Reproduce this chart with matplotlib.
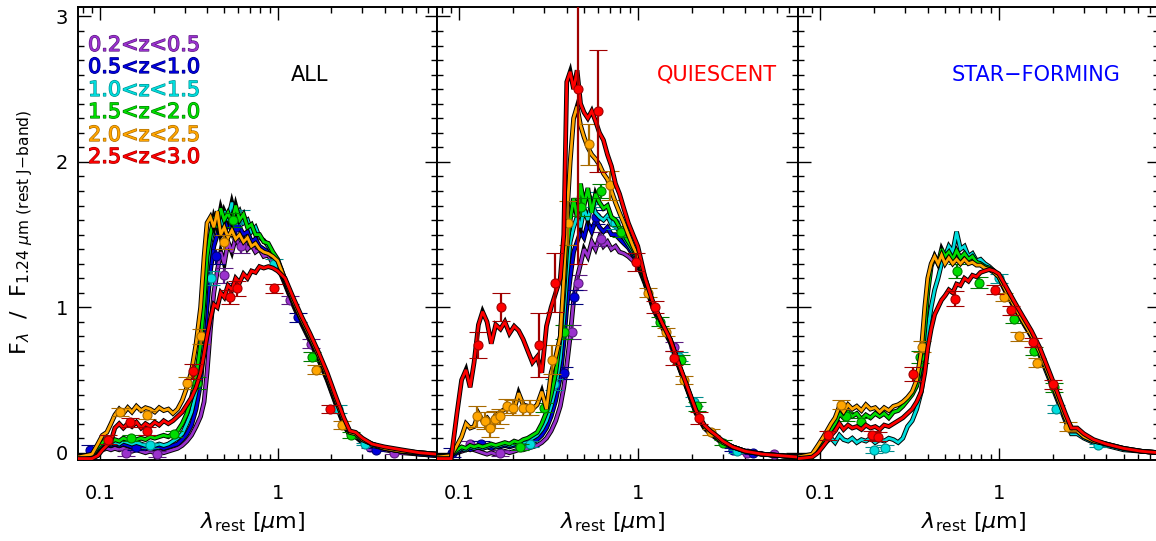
import matplotlib
matplotlib.use("Agg")
import matplotlib.pyplot as plt
import matplotlib.patheffects as pe
from matplotlib.ticker import FixedLocator, FixedFormatter, NullFormatter

# ---------------------------------------------------------------------------
# Composite rest-frame SEDs, normalised at 1.24 micron (rest J band)
# ---------------------------------------------------------------------------
wave = [0.075, 0.090, 0.097, 0.103, 0.109, 0.115, 0.121, 0.128, 0.135, 0.143,
        0.151, 0.160, 0.170, 0.180, 0.191, 0.203, 0.215, 0.228, 0.242, 0.257,
        0.273, 0.290, 0.308, 0.327, 0.347, 0.368, 0.385, 0.400, 0.418, 0.437,
        0.457, 0.478, 0.500, 0.525, 0.552, 0.580, 0.610, 0.642, 0.676, 0.712,
        0.750, 0.790, 0.835, 0.885, 0.940, 1.000, 1.100, 1.220, 1.360, 1.520,
        1.700, 1.900, 2.120, 2.360, 2.550, 2.750, 3.000, 3.400, 4.000, 5.000,
        6.300, 7.900]

zbins = ["0.2<z<0.5", "0.5<z<1.0", "1.0<z<1.5", "1.5<z<2.0", "2.0<z<2.5", "2.5<z<3.0"]
colors = ["#9A32CD", "#0000DD", "#00DDDD", "#00DD00", "#FFA500", "#FF0000"]
dark_colors = ["#5A1A80", "#00007A", "#008C8C", "#007A00", "#A86A00", "#A00000"]

# ALL galaxies
all_purple = [
    -0.03, -0.03, 0.00, 0.02, 0.03, 0.02, 0.03, 0.02, 0.03, 0.02,
    0.01, 0.02, 0.01, 0.00, 0.01, 0.00, 0.01, 0.00, 0.01, 0.02,
    0.03, 0.05, 0.08, 0.12, 0.18, 0.25, 0.35, 0.55, 0.85, 1.10,
    1.25, 1.38, 1.30, 1.45, 1.38, 1.48, 1.42, 1.47, 1.40, 1.43,
    1.38, 1.40, 1.35, 1.36, 1.30, 1.28, 1.16, 1.02, 0.89, 0.77,
    0.64, 0.50, 0.34, 0.19, 0.12, 0.11, 0.07, 0.04, 0.02, 0.00,
    -0.01, -0.02]
all_blue = [
    -0.03, -0.02, 0.02, 0.05, 0.06, 0.05, 0.06, 0.05, 0.06, 0.05,
    0.04, 0.05, 0.04, 0.03, 0.04, 0.03, 0.04, 0.03, 0.04, 0.05,
    0.06, 0.09, 0.13, 0.19, 0.30, 0.48, 0.75, 1.00, 1.25, 1.42,
    1.50, 1.58, 1.50, 1.60, 1.52, 1.62, 1.55, 1.50, 1.52, 1.45,
    1.47, 1.42, 1.40, 1.38, 1.34, 1.30, 1.17, 1.03, 0.90, 0.78,
    0.65, 0.51, 0.35, 0.20, 0.12, 0.11, 0.08, 0.05, 0.03, 0.01,
    -0.01, -0.02]
all_cyan = [
    -0.03, -0.02, 0.03, 0.06, 0.08, 0.06, 0.07, 0.06, 0.08, 0.07,
    0.06, 0.07, 0.06, 0.05, 0.06, 0.05, 0.06, 0.05, 0.06, 0.08,
    0.10, 0.13, 0.20, 0.28, 0.42, 0.65, 0.95, 1.25, 1.45, 1.55,
    1.62, 1.55, 1.66, 1.60, 1.72, 1.62, 1.66, 1.58, 1.60, 1.52,
    1.55, 1.48, 1.46, 1.42, 1.37, 1.32, 1.18, 1.04, 0.91, 0.79,
    0.66, 0.52, 0.36, 0.21, 0.13, 0.12, 0.08, 0.05, 0.03, 0.01,
    0.00, -0.01]
all_green = [
    -0.03, -0.02, 0.04, 0.07, 0.10, 0.07, 0.09, 0.08, 0.10, 0.09,
    0.10, 0.09, 0.10, 0.09, 0.11, 0.10, 0.11, 0.12, 0.11, 0.13,
    0.15, 0.20, 0.27, 0.38, 0.52, 0.75, 1.05, 1.35, 1.50, 1.62,
    1.55, 1.68, 1.60, 1.65, 1.58, 1.70, 1.60, 1.64, 1.55, 1.57,
    1.50, 1.50, 1.45, 1.44, 1.38, 1.33, 1.19, 1.05, 0.92, 0.80,
    0.67, 0.53, 0.37, 0.22, 0.14, 0.13, 0.09, 0.06, 0.03, 0.01,
    0.00, -0.01]
all_orange = [
    -0.03, -0.01, 0.06, 0.12, 0.14, 0.20, 0.26, 0.30, 0.27, 0.31,
    0.28, 0.32, 0.29, 0.31, 0.30, 0.28, 0.31, 0.29, 0.30, 0.27,
    0.30, 0.36, 0.45, 0.56, 0.75, 1.00, 1.35, 1.58, 1.62, 1.55,
    1.66, 1.50, 1.55, 1.48, 1.53, 1.47, 1.50, 1.45, 1.48, 1.42,
    1.44, 1.40, 1.38, 1.37, 1.35, 1.32, 1.19, 1.05, 0.92, 0.80,
    0.67, 0.53, 0.37, 0.22, 0.14, 0.13, 0.09, 0.06, 0.03, 0.01,
    0.00, -0.01]
all_red = [
    -0.04, -0.04, -0.02, 0.02, 0.05, 0.08, 0.17, 0.20, 0.17, 0.20,
    0.18, 0.21, 0.17, 0.20, 0.18, 0.21, 0.19, 0.22, 0.20, 0.22,
    0.25, 0.28, 0.33, 0.38, 0.45, 0.55, 0.68, 0.80, 0.92, 1.02,
    1.00, 1.10, 1.07, 1.15, 1.12, 1.20, 1.17, 1.23, 1.20, 1.25,
    1.24, 1.28, 1.27, 1.28, 1.27, 1.25, 1.20, 1.07, 0.94, 0.82,
    0.69, 0.55, 0.39, 0.24, 0.15, 0.14, 0.10, 0.06, 0.04, 0.02,
    0.00, -0.01]

# Quiescent galaxies
q_purple = [
    -0.03, -0.02, 0.00, 0.01, 0.02, 0.03, 0.02, 0.01, 0.00, -0.01,
    0.00, -0.01, 0.00, 0.01, 0.00, 0.01, 0.02, 0.02, 0.03, 0.04,
    0.05, 0.07, 0.10, 0.15, 0.22, 0.32, 0.45, 0.60, 0.80, 1.05,
    1.20, 1.30, 1.40, 1.35, 1.45, 1.40, 1.48, 1.42, 1.45, 1.40,
    1.42, 1.38, 1.37, 1.35, 1.32, 1.29, 1.16, 0.99, 0.87, 0.76,
    0.59, 0.43, 0.27, 0.17, 0.13, 0.10, 0.06, 0.03, 0.00, -0.01,
    -0.02, -0.03]
q_blue = [
    -0.03, -0.02, 0.00, 0.02, 0.03, 0.02, 0.03, 0.04, 0.03, 0.04,
    0.03, 0.04, 0.04, 0.05, 0.04, 0.05, 0.05, 0.06, 0.06, 0.07,
    0.09, 0.12, 0.17, 0.25, 0.36, 0.52, 0.75, 1.00, 1.20, 1.38,
    1.45, 1.52, 1.48, 1.58, 1.52, 1.60, 1.55, 1.52, 1.55, 1.50,
    1.50, 1.47, 1.44, 1.41, 1.36, 1.31, 1.17, 1.00, 0.88, 0.77,
    0.60, 0.44, 0.28, 0.18, 0.14, 0.11, 0.07, 0.04, 0.01, -0.01,
    -0.02, -0.03]
q_cyan = [
    -0.03, -0.02, 0.01, 0.03, 0.02, 0.04, 0.03, 0.04, 0.03, 0.04,
    0.05, 0.04, 0.05, 0.06, 0.05, 0.06, 0.07, 0.07, 0.08, 0.10,
    0.12, 0.16, 0.22, 0.32, 0.45, 0.65, 0.92, 1.20, 1.45, 1.55,
    1.62, 1.55, 1.68, 1.60, 1.72, 1.65, 1.62, 1.60, 1.63, 1.57,
    1.56, 1.52, 1.48, 1.43, 1.38, 1.32, 1.18, 1.01, 0.88, 0.77,
    0.60, 0.44, 0.28, 0.18, 0.14, 0.11, 0.07, 0.04, 0.01, -0.01,
    -0.02, -0.03]
q_green = [
    -0.03, -0.02, 0.02, 0.04, 0.03, 0.05, 0.04, 0.05, 0.04, 0.05,
    0.06, 0.05, 0.06, 0.07, 0.06, 0.08, 0.07, 0.09, 0.10, 0.12,
    0.14, 0.20, 0.28, 0.40, 0.55, 0.80, 1.10, 1.40, 1.60, 1.75,
    1.62, 1.85, 1.70, 1.82, 1.65, 1.78, 1.72, 1.68, 1.70, 1.62,
    1.60, 1.55, 1.50, 1.45, 1.40, 1.33, 1.18, 1.01, 0.89, 0.78,
    0.60, 0.44, 0.28, 0.18, 0.14, 0.11, 0.07, 0.04, 0.01, -0.01,
    -0.02, -0.03]
q_orange = [
    -0.03, -0.02, 0.05, 0.11, 0.20, 0.17, 0.18, 0.27, 0.22, 0.24,
    0.20, 0.26, 0.28, 0.30, 0.32, 0.30, 0.41, 0.33, 0.32, 0.30,
    0.33, 0.42, 0.30, 0.55, 0.66, 0.80, 1.20, 1.60, 2.00, 2.30,
    2.38, 2.25, 2.17, 2.10, 2.05, 2.02, 1.98, 1.92, 1.88, 1.80,
    1.72, 1.65, 1.58, 1.50, 1.42, 1.35, 1.20, 1.02, 0.89, 0.78,
    0.60, 0.44, 0.28, 0.18, 0.14, 0.11, 0.07, 0.04, 0.01, -0.01,
    -0.02, -0.03]
q_red = [
    -0.04, -0.04, 0.27, 0.50, 0.57, 0.45, 0.62, 0.88, 0.97, 0.90,
    0.75, 0.88, 0.85, 0.90, 0.82, 0.87, 0.84, 0.78, 0.70, 0.62,
    0.66, 0.55, 0.87, 1.00, 1.10, 1.20, 1.50, 2.55, 2.62, 2.50,
    2.63, 2.40, 2.34, 2.30, 2.35, 2.28, 2.20, 2.15, 2.05, 1.97,
    1.85, 1.78, 1.68, 1.58, 1.50, 1.42, 1.20, 1.03, 0.90, 0.78,
    0.61, 0.45, 0.29, 0.19, 0.15, 0.12, 0.08, 0.04, 0.01, -0.01,
    -0.02, -0.03]

# Star-forming galaxies
sf_cyan = [
    -0.03, -0.02, 0.02, 0.05, 0.08, 0.10, 0.07, 0.12, 0.09, 0.08,
    0.10, 0.07, 0.09, 0.08, 0.10, 0.07, 0.09, 0.08, 0.10, 0.09,
    0.07, 0.10, 0.18, 0.22, 0.30, 0.42, 0.60, 0.85, 1.00, 1.12,
    1.20, 1.30, 1.35, 1.42, 1.38, 1.52, 1.40, 1.42, 1.35, 1.37,
    1.32, 1.33, 1.30, 1.28, 1.25, 1.20, 1.10, 1.00, 0.90, 0.80,
    0.67, 0.52, 0.37, 0.22, 0.13, 0.13, 0.10, 0.07, 0.05, 0.02,
    0.01, 0.00]
sf_green = [
    -0.03, -0.02, 0.03, 0.08, 0.12, 0.16, 0.20, 0.27, 0.24, 0.28,
    0.25, 0.27, 0.23, 0.26, 0.24, 0.27, 0.25, 0.27, 0.24, 0.28,
    0.29, 0.32, 0.36, 0.40, 0.46, 0.60, 0.85, 1.10, 1.28, 1.35,
    1.30, 1.40, 1.35, 1.38, 1.33, 1.39, 1.34, 1.37, 1.33, 1.35,
    1.31, 1.30, 1.28, 1.27, 1.25, 1.21, 1.11, 1.01, 0.91, 0.81,
    0.69, 0.54, 0.39, 0.24, 0.15, 0.15, 0.11, 0.08, 0.06, 0.03,
    0.01, 0.00]
sf_orange = [
    -0.03, -0.01, 0.05, 0.10, 0.15, 0.20, 0.24, 0.32, 0.28, 0.33,
    0.30, 0.32, 0.29, 0.33, 0.30, 0.31, 0.28, 0.31, 0.29, 0.32,
    0.33, 0.35, 0.38, 0.42, 0.50, 0.70, 1.00, 1.20, 1.30, 1.35,
    1.30, 1.36, 1.30, 1.34, 1.30, 1.33, 1.30, 1.33, 1.30, 1.31,
    1.29, 1.29, 1.27, 1.26, 1.24, 1.21, 1.11, 1.01, 0.91, 0.81,
    0.69, 0.54, 0.39, 0.24, 0.15, 0.15, 0.11, 0.08, 0.06, 0.03,
    0.01, 0.00]
sf_red = [
    -0.04, -0.03, 0.00, 0.04, 0.08, 0.12, 0.15, 0.20, 0.16, 0.19,
    0.17, 0.18, 0.16, 0.19, 0.17, 0.18, 0.16, 0.19, 0.18, 0.20,
    0.22, 0.24, 0.27, 0.30, 0.35, 0.42, 0.55, 0.72, 0.85, 0.95,
    1.00, 1.05, 1.08, 1.12, 1.10, 1.16, 1.15, 1.20, 1.18, 1.22,
    1.21, 1.24, 1.25, 1.26, 1.25, 1.23, 1.14, 1.04, 0.94, 0.84,
    0.72, 0.57, 0.42, 0.27, 0.17, 0.17, 0.13, 0.09, 0.06, 0.03,
    0.01, 0.00]

# Binned photometry: (wavelength [micron], F/F_J, error)
all_purple_pts = [(0.14, 0.00, 0.02), (0.21, -0.01, 0.02), (0.50, 1.22, 0.05), (0.62, 1.42, 0.05),
                  (1.18, 1.05, 0.03), (1.55, 0.75, 0.03), (3.3, 0.04, 0.01), (4.5, 0.00, 0.01)]
all_blue_pts = [(0.088, 0.02, 0.03), (0.16, 0.04, 0.02), (0.45, 1.35, 0.05), (0.58, 1.55, 0.05),
                (1.30, 0.93, 0.03), (3.6, 0.02, 0.01)]
all_cyan_pts = [(0.19, 0.05, 0.02), (0.42, 1.20, 0.05), (0.62, 1.62, 0.05), (0.95, 1.30, 0.03),
                (2.2, 0.30, 0.03), (3.1, 0.06, 0.01)]
all_green_pts = [(0.15, 0.10, 0.02), (0.26, 0.13, 0.02), (0.35, 0.48, 0.04), (0.56, 1.60, 0.05),
                 (1.57, 0.66, 0.03), (2.6, 0.12, 0.02)]
all_orange_pts = [(0.13, 0.28, 0.03), (0.183, 0.26, 0.03), (0.307, 0.48, 0.04), (0.37, 0.80, 0.05),
                  (0.50, 1.45, 0.05), (1.65, 0.57, 0.03), (2.3, 0.19, 0.03)]
all_red_pts = [(0.111, 0.09, 0.03), (0.147, 0.21, 0.03), (0.183, 0.15, 0.03), (0.333, 0.56, 0.05),
               (0.54, 1.07, 0.05), (0.59, 1.13, 0.05), (0.95, 1.13, 0.03), (1.97, 0.30, 0.03)]

q_purple_pts = [(0.115, 0.06, 0.02), (0.17, 0.00, 0.02), (0.43, 0.83, 0.05), (0.46, 1.17, 0.05),
                (0.62, 1.47, 0.05), (1.59, 0.73, 0.03), (4.1, 0.00, 0.01), (5.8, -0.01, 0.01)]
q_blue_pts = [(0.091, 0.00, 0.03), (0.133, 0.06, 0.02), (0.385, 0.55, 0.04), (0.44, 1.07, 0.05),
              (0.58, 1.62, 0.05), (3.4, 0.02, 0.01), (4.4, 0.00, 0.01)]
q_cyan_pts = [(0.25, 0.06, 0.02), (0.338, 0.47, 0.04), (0.575, 1.74, 0.05), (0.75, 1.58, 0.04),
              (1.70, 0.66, 0.03), (2.07, 0.35, 0.03), (3.6, 0.01, 0.01)]
q_green_pts = [(0.22, 0.04, 0.02), (0.30, 0.31, 0.03), (0.384, 0.83, 0.05), (0.48, 1.69, 0.06),
               (0.62, 1.80, 0.05), (0.81, 1.52, 0.04), (1.33, 0.90, 0.03), (1.75, 0.64, 0.03),
               (2.16, 0.32, 0.03), (3.0, 0.07, 0.02)]
q_orange_pts = [(0.126, 0.25, 0.07), (0.14, 0.22, 0.06), (0.149, 0.17, 0.06), (0.159, 0.23, 0.06),
                (0.17, 0.25, 0.05), (0.186, 0.32, 0.05), (0.20, 0.31, 0.05), (0.226, 0.31, 0.05),
                (0.25, 0.31, 0.05), (0.33, 0.64, 0.10), (0.405, 1.58, 0.15), (0.53, 2.12, 0.14),
                (0.70, 1.84, 0.10), (1.14, 1.10, 0.03), (1.43, 0.83, 0.03), (1.82, 0.50, 0.03),
                (2.57, 0.14, 0.02)]
q_red_pts = [(0.128, 0.74, 0.09), (0.172, 1.00, 0.095), (0.28, 0.74, 0.22), (0.345, 1.17, 0.20),
             (0.46, 2.50, 1.20), (0.60, 2.35, 0.42), (0.975, 1.31, 0.06), (1.25, 1.00, 0.04),
             (1.60, 0.65, 0.05), (2.2, 0.24, 0.04)]

sf_cyan_pts = [(0.20, 0.02, 0.02), (0.23, 0.03, 0.02), (1.00, 1.20, 0.03), (2.1, 0.30, 0.03),
               (3.6, 0.05, 0.01)]
sf_green_pts = [(0.14, 0.25, 0.03), (0.17, 0.21, 0.03), (0.36, 0.66, 0.04), (0.58, 1.25, 0.05),
                (0.77, 1.17, 0.04), (1.22, 0.92, 0.03), (1.57, 0.70, 0.03), (2.05, 0.45, 0.03)]
sf_orange_pts = [(0.13, 0.33, 0.03), (0.37, 0.73, 0.04), (1.07, 1.07, 0.03), (1.30, 0.80, 0.03),
                 (1.64, 0.62, 0.03), (2.45, 0.18, 0.03)]
sf_red_pts = [(0.11, 0.12, 0.03), (0.195, 0.12, 0.03), (0.21, 0.11, 0.03), (0.33, 0.54, 0.05),
              (0.57, 1.06, 0.05), (0.95, 1.12, 0.03), (1.17, 0.98, 0.03), (1.55, 0.76, 0.03),
              (2.0, 0.47, 0.03)]

panels = [
    ("ALL", "black", 0.646,
     [all_purple, all_blue, all_cyan, all_green, all_orange, all_red],
     [all_purple_pts, all_blue_pts, all_cyan_pts, all_green_pts, all_orange_pts, all_red_pts]),
    ("QUIESCENT", "#FF0000", 0.776,
     [q_purple, q_blue, q_cyan, q_green, q_orange, q_red],
     [q_purple_pts, q_blue_pts, q_cyan_pts, q_green_pts, q_orange_pts, q_red_pts]),
    ("STAR\u2212FORMING", "#0000FF", 0.66,
     [None, None, sf_cyan, sf_green, sf_orange, sf_red],
     [None, None, sf_cyan_pts, sf_green_pts, sf_orange_pts, sf_red_pts]),
]

# ---------------------------------------------------------------------------
plt.rcParams["font.family"] = "DejaVu Sans"
plt.rcParams["mathtext.fontset"] = "dejavusans"

W, H = 1156, 541
fig = plt.figure(figsize=(W / 100, H / 100), dpi=100)
lefts = [78, 437, 798]
widths = [359, 361, 361]
top_px, bot_px = 7, 460

for k, (title, tcolor, tx, curves, points) in enumerate(panels):
    ax = fig.add_axes([lefts[k] / W, (H - bot_px) / H, widths[k] / W, (bot_px - top_px) / H])
    ax.set_xscale("log")
    ax.set_xlim(0.075, 7.9)
    ax.set_ylim(-0.05, 3.065)

    for i in range(6):
        spec = curves[i]
        if spec is None:
            continue
        ax.plot(wave, spec, color="black", lw=3.4, solid_joinstyle="miter", zorder=2 + i)
        ax.plot(wave, spec, color=colors[i], lw=2.0, solid_joinstyle="miter", zorder=2 + i)
        pts = points[i]
        px = [p[0] for p in pts]
        py = [p[1] for p in pts]
        pe_ = [p[2] for p in pts]
        ax.errorbar(px, py, yerr=pe_, fmt="o", ms=6.5, mfc=colors[i], mec=dark_colors[i],
                    mew=0.8, ecolor=dark_colors[i], elinewidth=1.6, capsize=6.5, capthick=2.2,
                    zorder=2.5 + i)

    ax.xaxis.set_major_locator(FixedLocator([0.1, 1.0]))
    ax.xaxis.set_major_formatter(FixedFormatter(["0.1", "1"]))
    ax.xaxis.set_minor_locator(FixedLocator([0.08, 0.09, 0.2, 0.3, 0.4, 0.5, 0.6, 0.7, 0.8, 0.9,
                                             2, 3, 4, 5, 6, 7]))
    ax.xaxis.set_minor_formatter(NullFormatter())
    ax.yaxis.set_major_locator(FixedLocator([0, 1, 2, 3]))
    ax.yaxis.set_minor_locator(FixedLocator([v / 10 for v in range(0, 31) if v % 10]))
    ax.tick_params(which="both", direction="in", top=True, right=True, width=1.0,
                   labelsize=14, colors="black")
    ax.tick_params(which="major", length=9)
    ax.tick_params(which="minor", length=4.5)
    ax.tick_params(axis="x", pad=17)
    ax.tick_params(axis="y", pad=7)
    if k > 0:
        ax.set_yticklabels([])
    for s in ax.spines.values():
        s.set_linewidth(1.4)

    ax.text(tx, 0.85, title, color=tcolor, fontsize=15, ha="center", va="center",
            transform=ax.transAxes)

    fig.text((lefts[k] + widths[k] / 2 - 5) / W, 1 - 522 / H,
             r"$\lambda_{\mathrm{rest}}$ [$\mu$m]", fontsize=16, ha="center", va="center")

    if k == 0:
        ys = [45, 67, 90, 112, 135, 157]
        for i in range(6):
            ax.text(0.028, (bot_px - ys[i]) / (bot_px - top_px), zbins[i], color=colors[i],
                    fontsize=15, ha="left", va="center", transform=ax.transAxes,
                    path_effects=[pe.withStroke(linewidth=0.9, foreground=dark_colors[i])])

fig.text(22 / W, 1 - 232 / H,
         r"$\mathrm{F}_{\lambda}$  /  $\mathrm{F}_{1.24\ \mu\mathrm{m\ (rest\ J{-}band)}}$",
         rotation=90, fontsize=16, ha="center", va="center")

fig.savefig("out.png", dpi=100)
